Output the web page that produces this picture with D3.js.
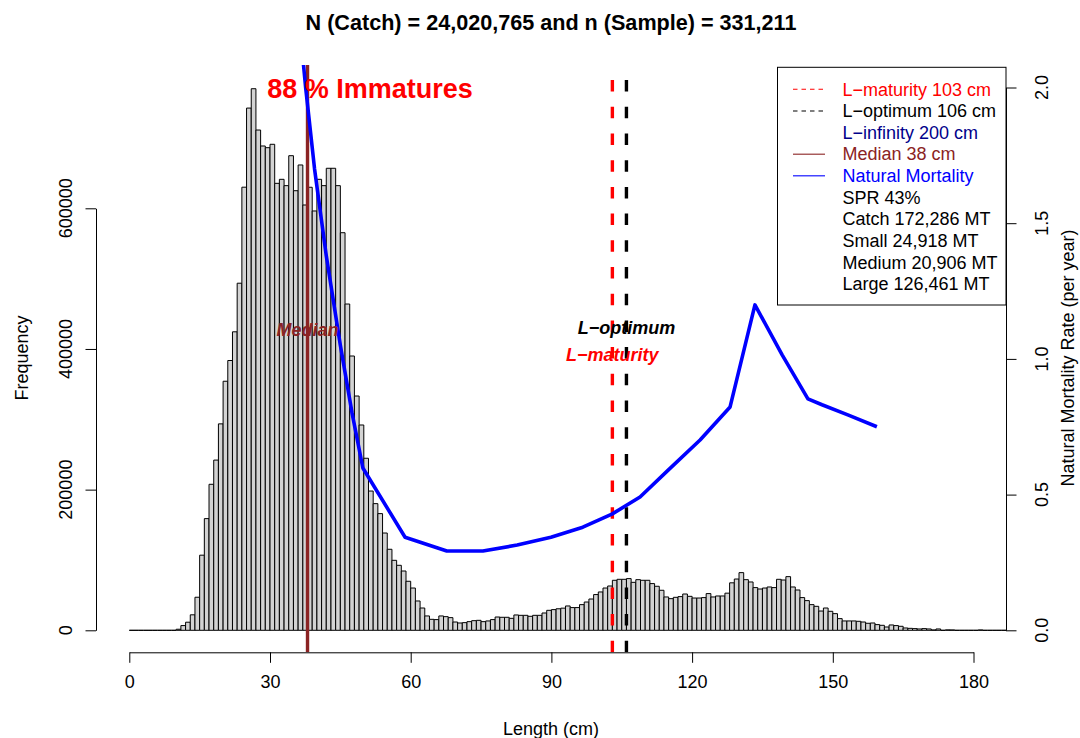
<!DOCTYPE html>
<html><head><meta charset="utf-8">
<script src="https://cdn.jsdelivr.net/npm/d3@7"></script>
<style>
html,body{margin:0;padding:0;background:#fff;}
svg{display:block;font-family:"Liberation Sans",Arial,Helvetica,sans-serif;}
</style></head>
<body><svg id="c" width="1080" height="738"></svg>
<script>
// ---- data ----
const binStart = 0;          // first bin lower edge (cm), bins 1 cm wide
const counts = [
0,0,0,0,0,0,0,0,0,0,
1500,6700,11500,22000,47000,106800,158800,207600,242000,293500,
354100,383600,424400,493500,630000,742500,770000,711300,688600,686200,
691000,635500,641200,632200,674800,625000,661600,604700,629900,596200,
641200,632200,656900,656900,632200,565300,463900,390000,333100,291900,
244600,198000,180100,165900,138300,115200,99500,92400,84300,69700,
60100,41700,31700,20400,15600,15200,20400,19400,18000,11800,
10400,10900,12300,13700,14200,12300,13300,15200,18900,18500,
18500,17000,21800,21300,21300,19900,21300,21300,24600,28400,
29400,30600,31500,34600,32300,32300,36500,40200,44500,50800,
54500,60100,63000,71100,72500,72500,73500,68200,72000,71100,
71100,66400,62600,56900,47400,45000,46900,47900,51600,48300,
45900,45900,46500,52200,47400,48800,48800,52800,67500,72900,
82000,72000,68700,60700,58700,60100,61600,60700,72500,71500,
76300,61600,57300,46500,42200,36500,34100,27400,31700,27000,
23700,16600,13300,13300,13300,12800,11800,10000,10400,8100,
7100,4700,7600,6700,5700,3300,2800,2400,1900,2400,
1900,500,1900,0,600,500,0,0,0,0,
0,500,0,0,0,0,0,0,0,0
];
const mortLength = [36.5, 37.6, 39.5, 42.0, 45.0, 47.5, 49.8, 58.8, 67.7, 75.4, 82.7, 89.9, 96.7, 102.9, 108.9, 114.9, 121.7, 128.1, 133.4, 139.2, 144.7, 147.7, 153.2, 159.4];
const mortRate   = [2.2, 2.0, 1.7, 1.38, 1.05, 0.80, 0.598, 0.343, 0.292, 0.292, 0.314, 0.343, 0.380, 0.428, 0.491, 0.590, 0.701, 0.823, 1.199, 1.015, 0.853, 0.831, 0.794, 0.750];
const xTicks = [0, 30, 60, 90, 120, 150, 180];
const yTicks = [0, 200000, 400000, 600000];
const mTicks = [0.0, 0.5, 1.0, 1.5, 2.0];
const Lmat = 103, Lopt = 106, Linf = 200, Lmed = 38;
const titleText = "N (Catch) = 24,020,765 and n (Sample) = 331,211";
const legendItems = [
  {label:"L\u2212maturity 103 cm", color:"#FF0000", line:"dash", lc:"#FF0000"},
  {label:"L\u2212optimum 106 cm", color:"#000000", line:"dash", lc:"#000000"},
  {label:"L\u2212infinity 200 cm", color:"#00008B", line:null},
  {label:"Median 38 cm", color:"#8B2323", line:"solid", lc:"#8B2323"},
  {label:"Natural Mortality", color:"#0000FF", line:"solid", lc:"#0000FF"},
  {label:"SPR 43%", color:"#000", line:null},
  {label:"Catch 172,286 MT", color:"#000", line:null},
  {label:"Small 24,918 MT", color:"#000", line:null},
  {label:"Medium 20,906 MT", color:"#000", line:null},
  {label:"Large 126,461 MT", color:"#000", line:null}
];

// ---- layout ----
const svg = d3.select("#c");
const P = {left:96, right:1006, top:65, bottom:652.3};
const x = d3.scaleLinear().domain([0,180]).range([129.3, 973.5]);
const yL = d3.scaleLinear().domain([0,600000]).range([630.3, 208.3]);
const yR = d3.scaleLinear().domain([0,2]).range([630.3, 87.5]);
const FS = 18;

svg.append("defs").append("clipPath").attr("id","plotclip")
  .append("rect").attr("x",P.left).attr("y",P.top).attr("width",P.right-P.left).attr("height",P.bottom-P.top);

const plot = svg.append("g").attr("clip-path","url(#plotclip)");

// histogram
const bins = counts.map((c,i)=>({x0:binStart+i, x1:binStart+i+1, c}));
plot.append("g").selectAll("path").data(bins).join("path")
  .attr("d", d=>`M${x(d.x0)},${yL(0)}V${yL(d.c)}H${x(d.x1)}V${yL(0)}Z`)
  .attr("fill","#D3D3D3").attr("stroke","#000").attr("stroke-width",1);

// vertical lines
plot.append("line").attr("x1",x(Lmed)).attr("x2",x(Lmed)).attr("y1",P.bottom).attr("y2",P.top)
  .attr("stroke","#8B2323").attr("stroke-width",3.4);
[[Lmat,"#FF0000"],[Lopt,"#000000"]].forEach(([v,col])=>{
  plot.append("line").attr("x1",x(v)).attr("x2",x(v)).attr("y1",P.bottom).attr("y2",P.top)
    .attr("stroke",col).attr("stroke-width",3.4).attr("stroke-dasharray","11.5,15.2");
});

// mortality curve
const mpts = mortLength.map((l,i)=>[l, mortRate[i]]);
plot.append("path").datum(mpts)
  .attr("d", d3.line().x(d=>x(d[0])).y(d=>yR(d[1])))
  .attr("fill","none").attr("stroke","#0000FF").attr("stroke-width",3.6).attr("stroke-linejoin","round");

// axes
const ax = svg.append("g").attr("transform",`translate(0,${P.bottom})`)
  .call(d3.axisBottom(x).tickValues(xTicks).tickSize(10.5).tickPadding(20).tickSizeOuter(0));
ax.select(".domain").attr("stroke","#000");
ax.selectAll("text").attr("font-size",FS).attr("font-family",'"Liberation Sans",Arial,sans-serif').attr("fill","#000").attr("dy","0.3em");
ax.selectAll("line").attr("stroke","#000");

const al = svg.append("g").attr("transform",`translate(${P.left},0)`)
  .call(d3.axisLeft(yL).tickValues(yTicks).tickFormat(d3.format("d")).tickSize(10.5).tickSizeOuter(0));
al.selectAll("text").remove();
al.select(".domain").attr("stroke","#000");
al.selectAll("line").attr("stroke","#000");
svg.append("g").selectAll("text").data(yTicks).join("text")
  .attr("transform",d=>`translate(72,${yL(d)}) rotate(-90)`)
  .attr("text-anchor","middle").attr("font-size",FS).text(d=>d3.format("d")(d));

const ar = svg.append("g").attr("transform",`translate(${P.right},0)`)
  .call(d3.axisRight(yR).tickValues(mTicks).tickSize(10.5).tickSizeOuter(0));
ar.selectAll("text").remove();
ar.select(".domain").attr("stroke","#000");
ar.selectAll("line").attr("stroke","#000");
svg.append("g").selectAll("text").data(mTicks).join("text")
  .attr("transform",d=>`translate(1047.5,${yR(d)}) rotate(-90)`)
  .attr("text-anchor","middle").attr("font-size",FS).text(d=>d3.format(".1f")(d));

// axis titles
svg.append("text").attr("x",551).attr("y",735).attr("text-anchor","middle").attr("font-size",FS).text("Length (cm)");
svg.append("text").attr("transform","translate(28,358) rotate(-90)").attr("text-anchor","middle").attr("font-size",FS).text("Frequency");
svg.append("text").attr("transform","translate(1074,358) rotate(-90)").attr("text-anchor","middle").attr("font-size",FS).text("Natural Mortality Rate (per year)");

// title
svg.append("text").attr("x",551).attr("y",30).attr("text-anchor","middle").attr("font-size",21.6).attr("font-weight","bold").text(titleText);

// annotations
svg.append("text").attr("x",370).attr("y",98).attr("text-anchor","middle").attr("font-size",27).attr("font-weight","bold").attr("fill","#FF0000").text("88 % Immatures");
svg.append("text").attr("x",x(Lmed)).attr("y",336).attr("text-anchor","middle").attr("font-size",FS).attr("font-weight","bold").attr("font-style","italic").attr("fill","#8B2323").text("Median");
svg.append("text").attr("x",x(Lopt)).attr("y",334).attr("text-anchor","middle").attr("font-size",FS).attr("font-weight","bold").attr("font-style","italic").attr("fill","#000").text("L\u2212optimum");
svg.append("text").attr("x",x(Lmat)).attr("y",361).attr("text-anchor","middle").attr("font-size",FS).attr("font-weight","bold").attr("font-style","italic").attr("fill","#FF0000").text("L\u2212maturity");

// legend
const lg = svg.append("g");
lg.append("rect").attr("x",777.5).attr("y",67.3).attr("width",P.right-777.5).attr("height",305-67.3)
  .attr("fill","#fff").attr("stroke","#000").attr("stroke-width",1);
legendItems.forEach((it,i)=>{
  const yy = 89.3 + i*21.63;
  if(it.line){
    lg.append("line").attr("x1",793).attr("x2",825).attr("y1",yy).attr("y2",yy)
      .attr("stroke",it.lc).attr("stroke-width",1.1).attr("stroke-dasharray",it.line==="dash"?"4.5,4":null);
  }
  lg.append("text").attr("x",842.5).attr("y",yy).attr("dy","0.35em").attr("font-size",FS).attr("fill",it.color).text(it.label);
});
</script></body></html>
